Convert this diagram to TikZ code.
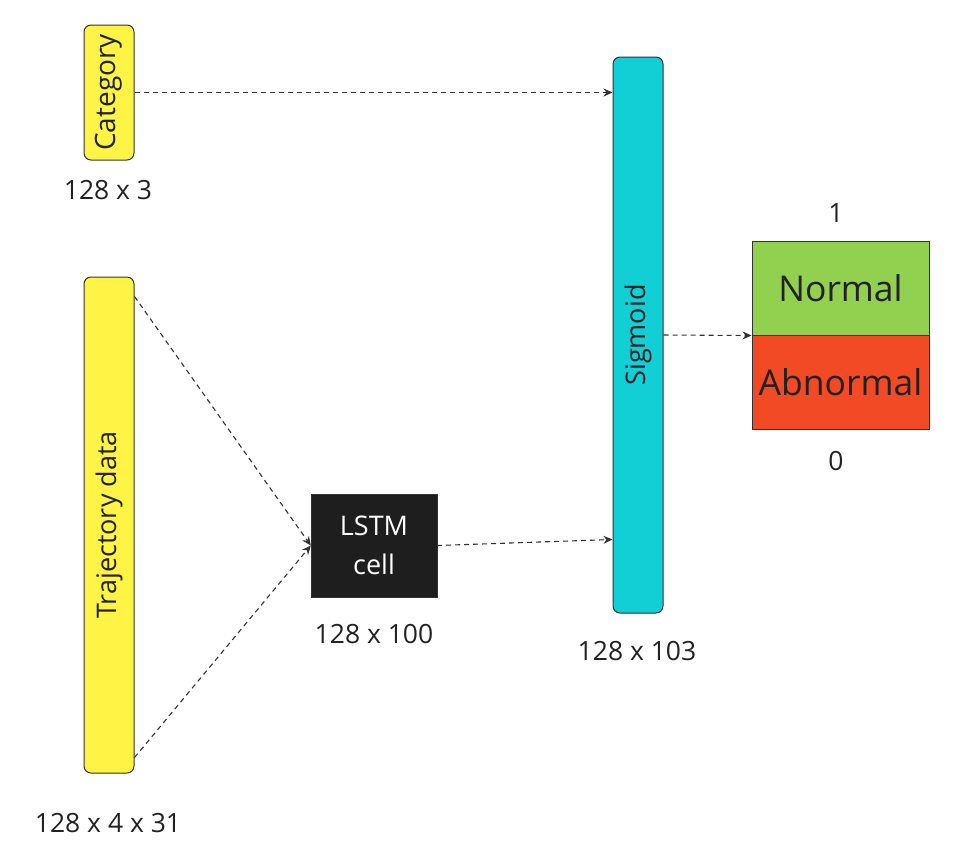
\documentclass[tikz,border=0pt]{standalone}
\usepackage{fontspec}
\setmainfont{Open Sans}
\usepackage{graphicx}
\usetikzlibrary{calc,arrows.meta}
\definecolor{yel}{HTML}{FFF345}
\definecolor{cya}{HTML}{12CED5}
\definecolor{grn}{HTML}{92D050}
\definecolor{rd}{HTML}{F24A25}
\definecolor{blk}{HTML}{1E1E1E}
\definecolor{edge}{HTML}{333333}
\definecolor{txt}{HTML}{222222}
\begin{document}
\begin{tikzpicture}[x=1pt,y=-1pt,
  bar/.style={draw=edge,line width=1pt,rounded corners=7pt,inner sep=0pt,text=txt,font=\fontsize{27}{30}\selectfont},
  dim/.style={text=txt,font=\fontsize{26.5}{30}\selectfont,inner sep=0pt},
  outbox/.style={draw=edge,line width=1pt,minimum width=177pt,minimum height=94pt,inner sep=0pt,text=txt,font=\fontsize{35.5}{40}\selectfont},
  conn/.style={edge,line width=1.1pt,dash pattern=on 5pt off 4pt,-{Stealth[length=9pt,width=8pt]}}]
\useasboundingbox (0,0) rectangle (955,855);
\node[bar,fill=yel,minimum width=50pt,minimum height=135pt,font=\fontsize{28}{30}\selectfont] (cat) at (109,92.5) {\rotatebox{90}{Category}};
\node[dim] (catl) at (108,190) {128 x 3};
\node[bar,fill=yel,minimum width=50pt,minimum height=496pt] (traj) at (109,525) {\rotatebox{90}{Trajectory data}};
\node[dim] (trajl) at (108,823) {128 x 4 x 31};
\node[draw=edge,fill=blk,minimum width=126pt,minimum height=103pt,inner sep=0pt,text=white,align=center,font=\fontsize{27}{39}\selectfont] (lstm) at (374,545.5) {LSTM\\cell};
\node[dim] (lstml) at (374,634) {128 x 100};
\node[bar,fill=cya,minimum width=50pt,minimum height=556pt] (sig) at (638,335) {\rotatebox{90}{Sigmoid}};
\node[dim] (sigl) at (637,651) {128 x 103};
\node[outbox,fill=grn] (norm) at (840.5,288) {Normal};
\node[outbox,fill=rd] (abn) at (840.5,382) {Abnormal};
\node[dim] (one) at (836,213) {1};
\node[dim] (zero) at (836,461) {0};
\coordinate (t1) at ($(traj.north east)+(0,20)$);
\coordinate (t2) at ($(traj.south east)+(0,-16)$);
\coordinate (s1) at ($(sig.south west)+(0,-74)$);
\draw[conn] (cat.east) -- (cat.east -| sig.west);
\draw[conn] (t1) -- (lstm.west);
\draw[conn] (t2) -- (lstm.west);
\draw[conn] (lstm.east) -- (s1);
\draw[conn] (sig.east) -- (norm.south west);
\end{tikzpicture}
\end{document}
